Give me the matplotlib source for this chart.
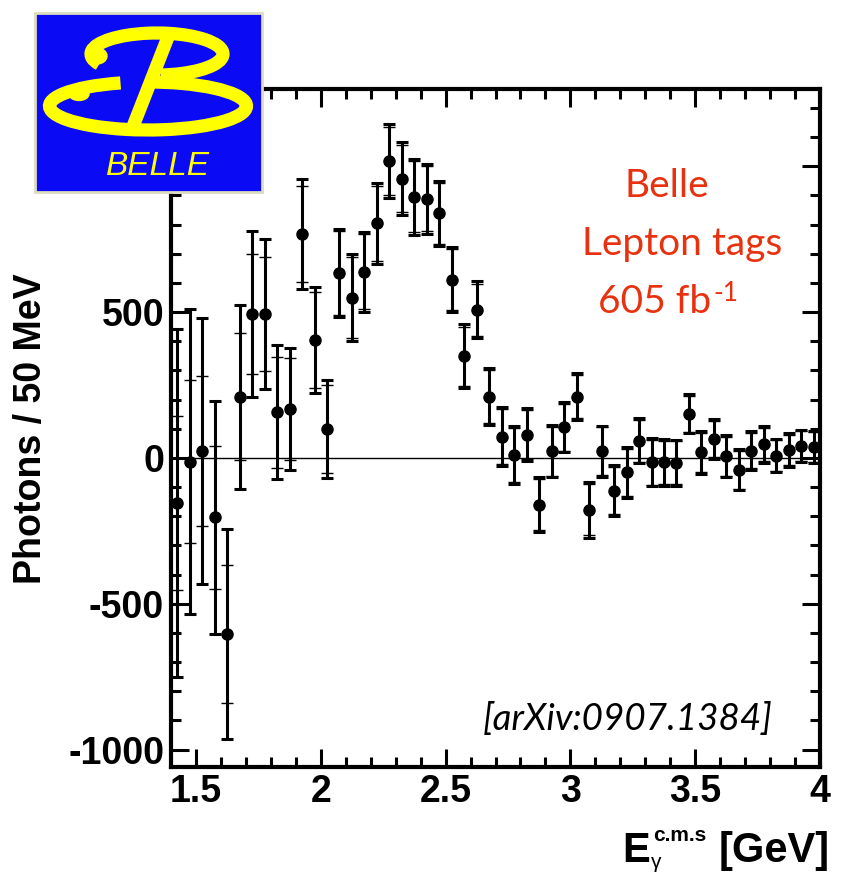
import matplotlib
matplotlib.use('Agg')
import matplotlib.pyplot as plt
from matplotlib.patches import Rectangle, Arc, Ellipse
from matplotlib.ticker import MultipleLocator

plt.rcParams['font.family'] = 'Liberation Sans'
plt.rcParams['font.weight'] = 'bold'

# Photon spectrum, lepton-tagged sample, 50 MeV bins (bin centres in GeV)
e_gamma = [1.425, 1.475, 1.525, 1.575, 1.625, 1.675, 1.725, 1.775, 1.825, 1.875,
           1.925, 1.975, 2.025, 2.075, 2.125, 2.175, 2.225, 2.275, 2.325, 2.375,
           2.425, 2.475, 2.525, 2.575, 2.625, 2.675, 2.725, 2.775, 2.825, 2.875,
           2.925, 2.975, 3.025, 3.075, 3.125, 3.175, 3.225, 3.275, 3.325, 3.375,
           3.425, 3.475, 3.525, 3.575, 3.625, 3.675, 3.725, 3.775, 3.825, 3.875,
           3.925, 3.975]
photons = [-154, -13, 23, -204, -604, 210, 494, 494, 156, 168,
           767, 404, 99, 634, 550, 639, 804, 1018, 958, 896,
           889, 839, 611, 348, 508, 210, 73, 11, 80, -160,
           23, 105, 210, -178, 23, -112, -49, 59, -15, -15,
           -17, 151, 19, 65, 6, -40, 25, 46, 8, 27,
           42, 37]
# total (stat + syst) errors
err_total = [597, 522, 455, 400, 359, 316, 284, 258, 230, 210,
             188, 182, 168, 152, 150, 137, 138, 127, 125, 130,
             120, 112, 112, 110, 97, 97, 100, 100, 90, 95,
             90, 86, 80, 95, 88, 88, 87, 78, 83, 80,
             80, 67, 73, 68, 72, 70, 66, 62, 57, 57,
             55, 55]
# statistical errors only
err_stat = [298, 279, 257, 244, 236, 218, 206, 196, 189, 176,
            165, 164, 150, 145, 140, 128, 128, 118, 116, 123,
            112, 104, 104, 102, 90, 90, 93, 93, 84, 88,
            84, 80, 74, 88, 82, 82, 81, 72, 77, 74,
            74, 62, 68, 63, 67, 65, 61, 58, 53, 53,
            51, 51]

x_ticks = [1.5, 2.0, 2.5, 3.0, 3.5, 4.0]
x_tick_labels = ['1.5', '2', '2.5', '3', '3.5', '4']
y_ticks = [-1000, -500, 0, 500, 1000]
y_tick_labels = ['-1000', '-500', '0', '500', '']  # 1000 sits under the logo

W, H = 843, 875
red = '#e8320f'
fig = plt.figure(figsize=(W / 100, H / 100), dpi=100)
ax = fig.add_axes([171 / W, 1 - 767 / H, 649 / W, 678 / H])

ax.axhline(0, color='black', lw=1.0, zorder=1)
ax.errorbar(e_gamma, photons, yerr=err_stat, fmt='none', ecolor='black',
            elinewidth=1.0, capsize=4.5, capthick=1.0, zorder=2)
ax.errorbar(e_gamma, photons, yerr=err_total, fmt='o', color='black', ms=8,
            elinewidth=2.2, capsize=4.3, capthick=2.2, zorder=3)

ax.set_xlim(1.4, 4.0)
ax.set_ylim(-1060, 1265)
ax.set_xticks(x_ticks)
ax.set_xticklabels(x_tick_labels)
ax.set_yticks(y_ticks)
ax.set_yticklabels(y_tick_labels)
ax.xaxis.set_minor_locator(MultipleLocator(0.1))
ax.yaxis.set_minor_locator(MultipleLocator(100))
ax.tick_params(which='both', direction='in', top=True, right=True, width=2.2)
ax.tick_params(which='major', length=13, labelsize=27, pad=5)
ax.tick_params(which='minor', length=7)
for s in ax.spines.values():
    s.set_linewidth(3)

fig.text(31 / W, 1 - 429 / H, 'Photons / 50 MeV', rotation=90, ha='center',
         va='center', fontsize=27, fontweight='bold')

# x axis title built from pieces: E, superscript c.m.s, subscript gamma, [GeV]
fig.text(622 / W, 1 - 862 / H, 'E', ha='left', va='baseline', fontsize=30)
fig.text(653 / W, 1 - 841 / H, 'c.m.s', ha='left', va='baseline', fontsize=15)
fig.text(651 / W, 1 - 868 / H, 'γ', ha='left', va='baseline', fontsize=15,
         fontweight='normal')
fig.text(830 / W, 1 - 862 / H, '[GeV]', ha='right', va='baseline', fontsize=30)

# red annotation block
fig.text(667 / W, 1 - 197 / H, 'Belle', ha='center', va='baseline',
         fontsize=28, color=red, family='Lato', fontweight='normal')
fig.text(682 / W, 1 - 255 / H, 'Lepton tags', ha='center', va='baseline',
         fontsize=28, color=red, family='Lato', fontweight='normal')
lumi = fig.text(655 / W, 1 - 313 / H, '605 fb', ha='center', va='baseline',
                fontsize=28, color=red, family='Lato', fontweight='normal')
ax.annotate('-1', xy=(1, 1), xycoords=lumi, xytext=(1, 2),
            textcoords='offset points', ha='left', va='top', fontsize=19,
            color=red, family='Lato', fontweight='normal')

fig.text(773 / W, 1 - 730 / H, '[arXiv:0907.1384]', ha='right', va='baseline',
         fontsize=26.5, family='Lato', style='italic', fontweight='normal')

# Belle logo, drawn in pixel units
lax = fig.add_axes([35 / W, 1 - 192 / H, 227 / W, 179 / H])
lax.set_xlim(0, 227)
lax.set_ylim(0, 179)
lax.axis('off')
yellow = '#ffff00'
lax.add_patch(Rectangle((0, 0), 227, 179, facecolor='#0a0af5',
                        edgecolor='#dcdcc0', lw=2, clip_on=False))
lax.add_patch(Arc((122, 138), 132, 42, theta1=-80, theta2=190,
                  color=yellow, lw=9.5))
lax.add_patch(Ellipse((62, 136), 20, 16, color=yellow))
lax.add_patch(Arc((113, 86), 197, 48, theta1=140, theta2=95,
                  color=yellow, lw=9.5))
lax.add_patch(Ellipse((44, 98), 20, 13, color=yellow))
lax.plot([135, 97], [160, 63], color=yellow, lw=9.5, solid_capstyle='butt')
lax.text(123, 17, 'BELLE', ha='center', va='baseline', fontsize=24,
         style='italic', fontweight='normal', color=yellow)

fig.savefig('out.png', dpi=100)
